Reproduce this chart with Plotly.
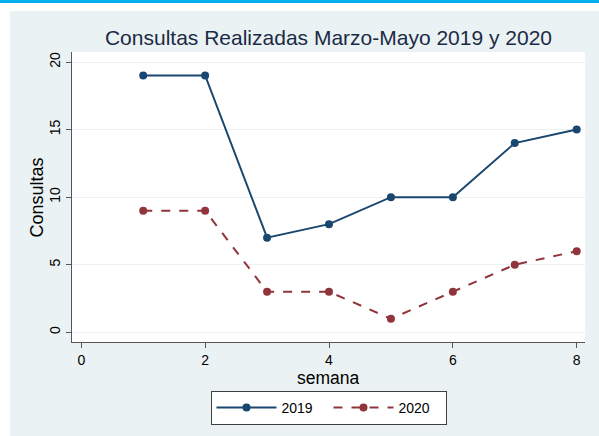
import plotly.graph_objects as go

semana = [1, 2, 3, 4, 5, 6, 7, 8]
consultas_2019 = [19, 19, 7, 8, 10, 10, 14, 15]
consultas_2020 = [9, 9, 3, 3, 1, 3, 5, 6]
x_ticks = [0, 2, 4, 6, 8]
y_ticks = [0, 5, 10, 15, 20]

W, H = 599, 436
L, R, T, B = 72, 14, 52, 94
pw, ph = W - L - R, H - T - B

def px_x(p):
    return (p - L) / pw

def px_y(p):
    return (H - B - p) / ph

FONT = "Liberation Sans, Arial, sans-serif"
PANEL = "#eaf2f3"

fig = go.Figure()
fig.add_trace(go.Scatter(
    x=semana, y=consultas_2019, name="2019", mode="lines+markers",
    line=dict(color="#1a476f", width=2),
    marker=dict(color="#1a476f", size=8, symbol="circle"),
))
fig.add_trace(go.Scatter(
    x=semana, y=consultas_2020, name="2020", mode="lines+markers",
    line=dict(color="#90353b", width=2, dash="dash"),
    marker=dict(color="#90353b", size=8, symbol="circle"),
))

shapes = [
    dict(type="rect", xref="paper", yref="paper", x0=px_x(-5), x1=px_x(10),
         y0=px_y(H + 5), y1=px_y(-5), fillcolor="white", line_width=0, layer="below"),
    dict(type="rect", xref="paper", yref="paper", x0=px_x(-5), x1=px_x(W + 5),
         y0=px_y(11), y1=px_y(-5), fillcolor="white", line_width=0, layer="below"),
    dict(type="rect", xref="paper", yref="paper", x0=px_x(-5), x1=px_x(W + 5),
         y0=px_y(3), y1=px_y(-5), fillcolor="#00aeef", line_width=0, layer="below"),
]

annotations = [
    dict(text="semana", xref="paper", yref="paper", x=0.5, y=px_y(377.5),
         xanchor="center", yanchor="middle", showarrow=False,
         height=15, valign="middle", borderpad=0,
         font=dict(size=17.5, color="black", family=FONT)),
    dict(text="Consultas", xref="paper", yref="paper", x=px_x(37), y=px_y(197.5),
         xanchor="center", yanchor="middle", showarrow=False, textangle=-90,
         font=dict(size=18, color="black", family=FONT)),
]

fig.update_layout(
    width=W, height=H,
    margin=dict(l=L, r=R, t=T, b=B, autoexpand=False),
    paper_bgcolor=PANEL,
    plot_bgcolor="white",
    font=dict(family=FONT, color="black", size=14),
    title=dict(text="Consultas Realizadas Marzo-Mayo 2019 y 2020",
               font=dict(size=21, color="#1c2b45", family=FONT),
               x=px_x((L + W - R) / 2), xanchor="center", xref="paper",
               y=1 - 38 / H, yanchor="middle"),
    shapes=shapes,
    annotations=annotations,
    showlegend=True,
    legend=dict(orientation="h", x=0.5, xanchor="center", xref="paper",
                y=px_y(391), yanchor="top",
                bgcolor="white", bordercolor="#404040", borderwidth=1,
                font=dict(size=14, color="black"), itemwidth=60,
                entrywidth=42, entrywidthmode="pixels",
                tracegroupgap=0),
)

fig.update_xaxes(
    range=[-0.15, 8.134], tickvals=x_ticks, ticktext=[str(v) for v in x_ticks],
    showgrid=False, zeroline=False,
    showline=True, linecolor="#555555", linewidth=1,
    ticks="outside", ticklen=5, tickcolor="#555555", tickwidth=1,
    tickfont=dict(size=14, color="black"),
    automargin=False,
)
fig.update_yaxes(
    range=[-0.72, 20.74], tickvals=y_ticks, ticktext=[str(v) for v in y_ticks],
    showgrid=True, gridcolor=PANEL, gridwidth=1, zeroline=False,
    showline=True, linecolor="#555555", linewidth=1,
    ticks="outside", ticklen=5, tickcolor="#555555", tickwidth=1,
    tickangle=-90, tickfont=dict(size=14, color="black"),
    automargin=False,
)

fig.write_html("out.html", config={"displayModeBar": False},
               post_script="document.body.style.margin='0px';")
